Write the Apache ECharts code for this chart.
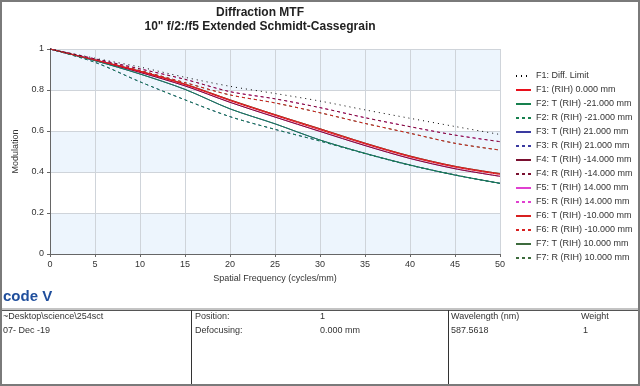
<!DOCTYPE html>
<html>
<head>
<meta charset="utf-8">
<script src="https://cdn.jsdelivr.net/npm/echarts@6/dist/echarts.min.js"></script>
<style>
html,body{margin:0;padding:0;background:#fff;}
#chart{width:640px;height:386px;}
</style>
</head>
<body>
<div id="chart"></div>
<script>
// Spatial frequency (cycles/mm)
const freq = [0, 5, 10, 15, 20, 25, 30, 35, 40, 45, 50];

// MTF values
const diffLimit = [1, 0.955, 0.912, 0.862, 0.818, 0.783, 0.746, 0.703, 0.662, 0.622, 0.583];
const f1      = [1, 0.946, 0.890, 0.826, 0.748, 0.676, 0.606, 0.537, 0.474, 0.424, 0.388];
const f2T     = [1, 0.943, 0.878, 0.803, 0.708, 0.635, 0.556, 0.491, 0.434, 0.385, 0.345];
const f2R     = [1, 0.935, 0.840, 0.752, 0.670, 0.608, 0.551, 0.490, 0.433, 0.386, 0.344];
const f3T     = [1, 0.943, 0.878, 0.803, 0.708, 0.635, 0.556, 0.491, 0.434, 0.385, 0.345];
const f3R     = [1, 0.935, 0.840, 0.752, 0.670, 0.608, 0.551, 0.490, 0.433, 0.386, 0.344];
const f4T     = [1, 0.945, 0.886, 0.820, 0.740, 0.668, 0.598, 0.529, 0.466, 0.416, 0.379];
const f4R     = [1, 0.952, 0.903, 0.852, 0.792, 0.757, 0.714, 0.665, 0.621, 0.580, 0.548];
const f5T     = [1, 0.945, 0.886, 0.820, 0.740, 0.668, 0.598, 0.529, 0.466, 0.416, 0.379];
const f5R     = [1, 0.952, 0.903, 0.852, 0.792, 0.757, 0.714, 0.665, 0.621, 0.580, 0.548];
const f6T     = [1, 0.947, 0.892, 0.829, 0.752, 0.680, 0.611, 0.541, 0.478, 0.428, 0.392];
const f6R     = [1, 0.949, 0.895, 0.836, 0.776, 0.737, 0.689, 0.637, 0.589, 0.540, 0.507];
const f7T     = [1, 0.947, 0.892, 0.829, 0.752, 0.680, 0.611, 0.541, 0.478, 0.428, 0.392];
const f7R     = [1, 0.949, 0.895, 0.836, 0.776, 0.737, 0.689, 0.637, 0.589, 0.540, 0.507];

const xTicks = [0, 5, 10, 15, 20, 25, 30, 35, 40, 45, 50];
const yTicks = [0, 0.2, 0.4, 0.6, 0.8, 1];

const seriesDefs = [
  {name: 'F1: Diff. Limit',           data: diffLimit, color: '#000000', type: [1, 4]},
  {name: 'F1: (RIH) 0.000 mm',        data: f1,  color: '#e8101c', type: 'solid'},
  {name: 'F2: T (RIH) -21.000 mm',    data: f2T, color: '#17804e', type: 'solid'},
  {name: 'F2: R (RIH) -21.000 mm',    data: f2R, color: '#17804e', type: [3, 3]},
  {name: 'F3: T (RIH) 21.000 mm',     data: f3T, color: '#3a3aa0', type: 'solid'},
  {name: 'F3: R (RIH) 21.000 mm',     data: f3R, color: '#3a3aa0', type: [3, 3]},
  {name: 'F4: T (RIH) -14.000 mm',    data: f4T, color: '#7a1030', type: 'solid'},
  {name: 'F4: R (RIH) -14.000 mm',    data: f4R, color: '#7a1030', type: [3, 3]},
  {name: 'F5: T (RIH) 14.000 mm',     data: f5T, color: '#e040d0', type: 'solid'},
  {name: 'F5: R (RIH) 14.000 mm',     data: f5R, color: '#e040d0', type: [3, 3]},
  {name: 'F6: T (RIH) -10.000 mm',    data: f6T, color: '#d82020', type: 'solid'},
  {name: 'F6: R (RIH) -10.000 mm',    data: f6R, color: '#d82020', type: [3, 3]},
  {name: 'F7: T (RIH) 10.000 mm',     data: f7T, color: '#3d6b3d', type: 'solid'},
  {name: 'F7: R (RIH) 10.000 mm',     data: f7R, color: '#3d6b3d', type: [3, 3]}
];

// draw order: last field first, F1 and diffraction limit on top
const drawOrder = [13, 12, 11, 10, 9, 8, 7, 6, 5, 4, 3, 2, 1, 0];
const series = drawOrder.map(i => {
  const d = seriesDefs[i];
  return {
    name: d.name,
    type: 'line',
    data: freq.map((f, k) => [f, d.data[k]]),
    smooth: 0.3,
    showSymbol: false,
    symbol: 'none',
    color: d.color,
    lineStyle: {color: d.color, width: 1, type: d.type},
    z: 2 + (13 - i) * 0.01
  };
});

const font = 'Liberation Sans, Arial, sans-serif';
const chart = echarts.init(document.getElementById('chart'), null, {renderer: 'canvas'});
chart.setOption({
  animation: false,
  backgroundColor: '#ffffff',
  grid: {left: 50, right: 140, top: 49, bottom: 132, containLabel: false},
  xAxis: {
    type: 'value', min: xTicks[0], max: xTicks[xTicks.length - 1], interval: 5,
    name: 'Spatial Frequency (cycles/mm)', nameLocation: 'middle', nameGap: 20,
    nameTextStyle: {fontSize: 9, color: '#333', fontFamily: font},
    axisLine: {lineStyle: {color: '#666', width: 1}},
    axisTick: {show: true, length: 3, lineStyle: {color: '#666'}},
    axisLabel: {fontSize: 9, color: '#333', fontFamily: font, margin: 6},
    splitLine: {show: true, lineStyle: {color: '#cfd4da', width: 1}}
  },
  yAxis: {
    type: 'value', min: yTicks[0], max: yTicks[yTicks.length - 1], interval: 0.2,
    name: 'Modulation', nameLocation: 'middle', nameGap: 30, nameRotate: 90,
    nameTextStyle: {fontSize: 9, color: '#333', fontFamily: font},
    axisLine: {show: true, lineStyle: {color: '#666', width: 1}},
    axisTick: {show: true, length: 3, lineStyle: {color: '#666'}},
    axisLabel: {fontSize: 9, color: '#333', fontFamily: font, margin: 6},
    splitLine: {show: true, lineStyle: {color: '#cfd4da', width: 1}},
    splitArea: {show: true, areaStyle: {color: ['#edf5fd', '#ffffff']}}
  },
  legend: {
    orient: 'vertical', left: 510, top: 66,
    itemWidth: 15, itemHeight: 8, itemGap: 4,
    data: seriesDefs.map(d => d.name),
    itemStyle: {opacity: 0},
    textStyle: {fontSize: 9, color: '#333', fontFamily: font, lineHeight: 10},
    selectedMode: false
  },
  series: series,
  graphic: [
    {type: 'rect', shape: {x: 1, y: 1, width: 638, height: 384}, style: {fill: 'none', stroke: '#7a7a7a', lineWidth: 2}, z: 100},
    {type: 'text', x: 260, y: 7, style: {text: 'Diffraction MTF', font: 'bold 12px ' + font, fill: '#222', textAlign: 'center'}},
    {type: 'text', x: 260, y: 21, style: {text: '10" f/2:/f5 Extended Schmidt-Cassegrain', font: 'bold 12px ' + font, fill: '#222', textAlign: 'center'}},
    {type: 'text', x: 3, y: 289, style: {text: 'code V', font: 'bold 15px ' + font, fill: '#1f4e9c'}},
    {type: 'line', shape: {x1: 1, y1: 309, x2: 639, y2: 309}, style: {stroke: '#888', lineWidth: 1}},
    {type: 'line', shape: {x1: 1, y1: 310.5, x2: 639, y2: 310.5}, style: {stroke: '#555', lineWidth: 1}},
    {type: 'line', shape: {x1: 191.5, y1: 310, x2: 191.5, y2: 385}, style: {stroke: '#333', lineWidth: 1}},
    {type: 'line', shape: {x1: 448.5, y1: 310, x2: 448.5, y2: 385}, style: {stroke: '#333', lineWidth: 1}},
    {type: 'text', x: 3, y: 312, style: {text: '~Desktop\\science\\254sct', font: '9px ' + font, fill: '#333'}},
    {type: 'text', x: 3, y: 326, style: {text: '07- Dec -19', font: '9px ' + font, fill: '#333'}},
    {type: 'text', x: 195, y: 312, style: {text: 'Position:', font: '9px ' + font, fill: '#333'}},
    {type: 'text', x: 320, y: 312, style: {text: '1', font: '9px ' + font, fill: '#333'}},
    {type: 'text', x: 195, y: 326, style: {text: 'Defocusing:', font: '9px ' + font, fill: '#333'}},
    {type: 'text', x: 320, y: 326, style: {text: '0.000 mm', font: '9px ' + font, fill: '#333'}},
    {type: 'text', x: 451, y: 312, style: {text: 'Wavelength (nm)', font: '9px ' + font, fill: '#333'}},
    {type: 'text', x: 581, y: 312, style: {text: 'Weight', font: '9px ' + font, fill: '#333'}},
    {type: 'text', x: 451, y: 326, style: {text: '587.5618', font: '9px ' + font, fill: '#333'}},
    {type: 'text', x: 583, y: 326, style: {text: '1', font: '9px ' + font, fill: '#333'}}
  ]
});
</script>
</body>
</html>
